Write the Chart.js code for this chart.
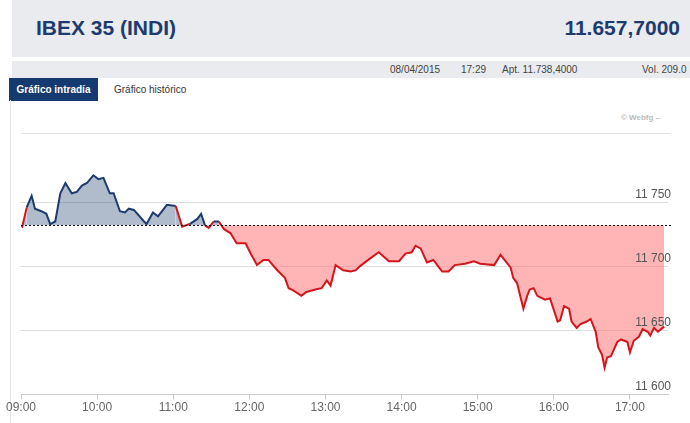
<!DOCTYPE html>
<html>
<head>
<meta charset="utf-8">
<script src="https://cdn.jsdelivr.net/npm/chart.js@4/dist/chart.umd.min.js"></script>
<style>
  body { margin: 0; width: 690px; height: 423px; background: #fff; font-family: Arial, "Liberation Sans", sans-serif; position: relative; overflow: hidden; }
  .head { position: absolute; left: 12px; top: 0; width: 678px; height: 57px; background: #e9ebee; }
  .head .name { position: absolute; left: 24px; top: 16px; font-size: 21px; font-weight: bold; color: #1d3b6e; }
  .head .val { position: absolute; right: 10px; top: 16px; font-size: 21px; font-weight: bold; color: #1d3b6e; }
  .strip { position: absolute; left: 12px; top: 61px; width: 678px; height: 17px; background: #e9ebee; font-size: 10px; color: #444; }
  .strip span { position: absolute; top: 3px; }
  .tab1 { position: absolute; left: 9px; top: 78px; width: 89px; height: 23px; background: #153a70; color: #fff; font-size: 10px; font-weight: bold; line-height: 23px; text-align: center; white-space: nowrap; }
  .tab2 { position: absolute; left: 114px; top: 78px; font-size: 10px; color: #333; line-height: 23px; white-space: nowrap; }
  .mark { position: absolute; right: 30px; top: 113px; font-size: 8px; color: #bbb; font-weight: bold; }
  .lb { position: absolute; left: 10px; top: 100px; width: 1px; height: 323px; background: #e4e4e4; }
  #wrap { position: absolute; left: 0; top: 105px; width: 690px; height: 311px; }
</style>
</head>
<body>
<div class="head"><span class="name">IBEX 35 (INDI)</span><span class="val">11.657,7000</span></div>
<div class="strip"><span style="left:378px">08/04/2015</span><span style="left:449px">17:29</span><span style="left:490px">Apt. 11.738,4000</span><span style="left:630px">Vol. 209.0</span></div>
<div class="tab1">Gráfico intradía</div>
<div class="tab2">Gráfico histórico</div>
<div class="lb"></div>
<div class="mark">© Webfg –</div>
<div id="wrap"><canvas id="myChart"></canvas></div>
<script>
// minutes after 09:00
const minutes = [0, 1, 4.5, 8.4, 11, 16, 20, 23, 27, 31, 35, 40, 44, 48, 52, 57, 61, 65, 70, 73, 78, 82, 85, 89, 97, 99, 104, 108, 115, 122, 127, 133, 139, 142, 145, 148, 152, 156, 160, 165, 170, 177, 181, 186, 191, 195, 202, 208, 211, 215, 221, 225, 232, 237, 241, 244, 248, 254, 260, 264, 267, 275, 282, 290, 298, 303, 308, 311, 315, 320, 325, 332, 337, 342, 350, 357, 362, 373, 378, 386, 388, 391, 396, 399, 401, 404, 407, 411, 413, 417, 423, 425, 428, 432, 434, 438, 441, 446, 449, 453, 455, 458, 460, 462, 465, 470, 473, 478, 480, 483, 487, 490, 494, 496, 499, 502, 507];
const prices = [11732, 11731, 11746, 11755, 11745, 11743, 11741, 11733, 11735, 11757, 11765, 11757, 11758, 11763, 11765, 11771, 11768, 11769, 11757, 11757, 11743, 11742, 11745, 11744, 11735, 11733, 11742, 11739, 11748, 11747, 11731, 11733, 11737, 11741, 11732, 11730, 11735, 11735, 11729, 11726, 11718, 11718, 11710, 11701, 11705, 11705, 11697, 11691, 11683, 11681, 11677, 11680, 11682, 11683, 11689, 11685, 11701, 11697, 11696, 11697, 11700, 11706, 11711, 11704, 11704, 11710, 11711, 11716, 11714, 11703, 11705, 11696, 11696, 11701, 11702, 11704, 11702, 11701, 11709, 11699, 11691, 11687, 11667, 11677, 11682, 11683, 11677, 11675, 11674, 11675, 11657, 11658, 11669, 11667, 11657, 11652, 11655, 11657, 11659, 11649, 11637, 11631, 11621, 11629, 11630, 11641, 11643, 11641, 11633, 11642, 11645, 11651, 11649, 11646, 11652, 11649, 11653];
const refLevel = 11732;
const yTicks = [11600, 11650, 11700, 11750];
const xTicks = ["09:00", "10:00", "11:00", "12:00", "13:00", "14:00", "15:00", "16:00", "17:00"];

const blue = "#1d3b6e", red = "#d4161c";

const overlay = {
  id: "overlay",
  afterDraw(chart) {
    const { ctx, chartArea: a, scales: { x, y } } = chart;
    ctx.save();
    // top border
    ctx.strokeStyle = "#e2e2e2"; ctx.lineWidth = 1;
    ctx.beginPath(); ctx.moveTo(a.left, a.top + 0.5); ctx.lineTo(a.right + 3, a.top + 0.5); ctx.stroke();
    // reference dashed line
    const ry = Math.round(y.getPixelForValue(refLevel)) + 0.5;
    ctx.strokeStyle = "#111"; ctx.setLineDash([2, 2]);
    ctx.beginPath(); ctx.moveTo(a.left, ry); ctx.lineTo(a.right + 3, ry); ctx.stroke();
    ctx.setLineDash([]);
    // y labels
    ctx.fillStyle = "#555"; ctx.font = "12px Arial, 'Liberation Sans'";
    ctx.textAlign = "right"; ctx.textBaseline = "bottom";
    yTicks.forEach(v => ctx.fillText(String(v).replace(/^(\d\d)(\d{3})$/, "$1 $2"), a.right + 3, y.getPixelForValue(v) - 2));
    ctx.restore();
  }
};

new Chart(document.getElementById("myChart"), {
  type: "line",
  data: {
    datasets: [{
      data: minutes.map((m, i) => ({ x: m, y: prices[i] })),
      borderWidth: 2,
      pointRadius: 0,
      tension: 0,
      borderColor: red,
      segment: { borderColor: c => (c.p0.parsed.y >= refLevel && c.p1.parsed.y >= refLevel) ? blue : red },
      fill: { target: { value: refLevel }, above: "rgba(29,59,110,0.35)", below: "rgba(255,120,120,0.55)" }
    }]
  },
  options: {
    animation: false,
    maintainAspectRatio: false,
    layout: { padding: { left: 21, right: 22, top: 28 } },
    plugins: { legend: { display: false }, tooltip: { enabled: false } },
    scales: {
      x: {
        type: "linear", min: 0, max: 510,
        afterBuildTicks: s => { s.ticks = xTicks.map((_, i) => ({ value: i * 60 })); },
        ticks: { callback: (v) => xTicks[v / 60], color: "#666", font: { size: 12, family: "Arial" }, maxRotation: 0, autoSkip: false, padding: 1 },
        grid: { drawOnChartArea: false, drawTicks: true, tickLength: 5, color: "#ccc" },
        border: { color: "#ccc" }
      },
      y: {
        min: 11600, max: 11804,
        afterBuildTicks: s => { s.ticks = yTicks.map(v => ({ value: v })); },
        afterFit: s => { s.width = 0; },
        ticks: { display: false },
        grid: { color: "#ddd", drawTicks: false },
        border: { display: false }
      }
    }
  },
  plugins: [overlay]
});
</script>
</body>
</html>
